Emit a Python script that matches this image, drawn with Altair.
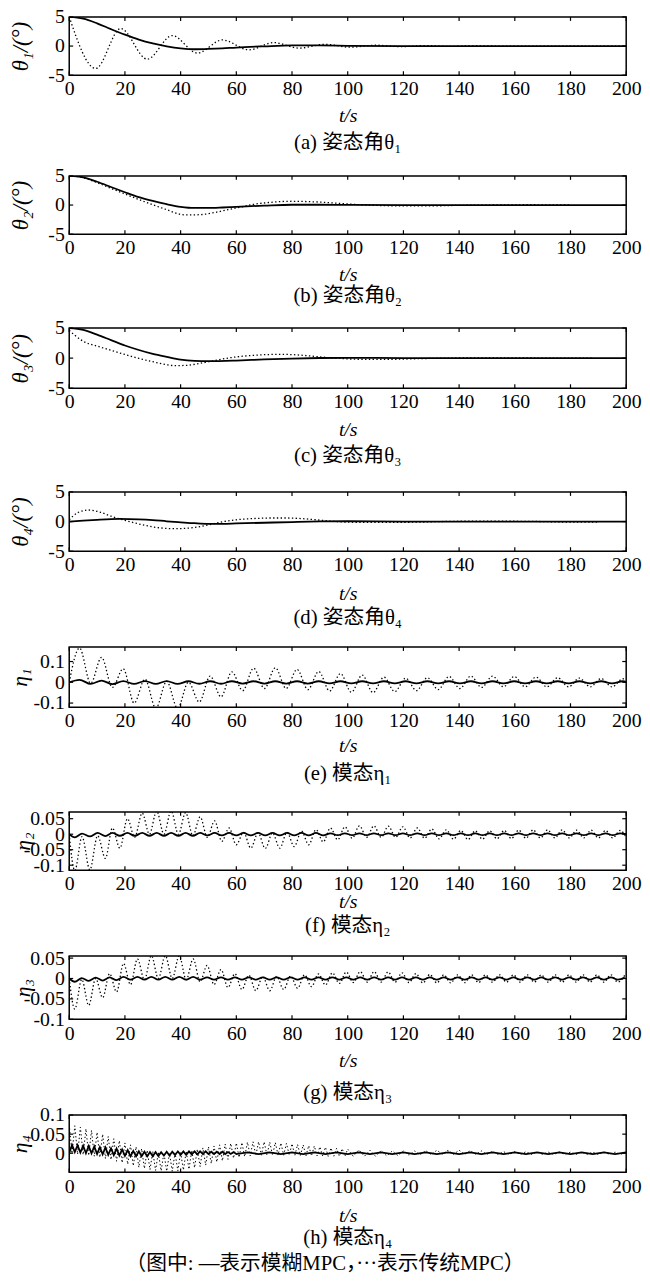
import altair as alt
import pandas as pd

FONT = "Liberation Serif, DejaVu Serif, Noto Sans CJK SC, serif"

X_TICKS = [0, 20, 40, 60, 80, 100, 120, 140, 160, 180, 200]

# ---------------- (a) theta1 ----------------
ta_f = [0, 5, 10, 15, 20, 25, 30, 35, 40, 45, 50, 55, 60, 70, 80, 90, 100, 120, 140, 200]
ya_f = [5.0, 4.7, 3.9, 2.9, 1.95, 1.1, 0.45, -0.05, -0.4, -0.55, -0.5, -0.4, -0.25, -0.05, 0.1, 0.1, 0.05, 0.0, 0.0, 0.0]
ta_c = [0, 9.5, 18.5, 28, 37, 46, 55, 64.5, 73.5, 82.5, 92, 101, 110, 119, 128, 137, 146, 155, 165, 200]
ya_c = [5.0, -3.85, 3.0, -2.25, 1.8, -1.2, 1.05, -0.65, 0.6, -0.35, 0.3, -0.2, 0.15, -0.1, 0.08, -0.05, 0.05, 0.0, 0.0, 0.0]

# ---------------- (b) theta2 ----------------
tb_f = [0, 5, 10, 15, 20, 25, 30, 35, 40, 45, 50, 55, 60, 70, 80, 90, 100, 120, 200]
yb_f = [5.0, 4.75, 4.0, 3.1, 2.2, 1.35, 0.7, 0.15, -0.3, -0.5, -0.5, -0.42, -0.3, -0.1, 0.05, 0.05, 0.02, 0.0, 0.0]
tb_c = [0, 5, 10, 15, 20, 25, 30, 35, 40, 42, 47, 52, 57, 62, 66, 72, 80, 88, 95, 102, 110, 120, 130, 140, 150, 165, 180]
yb_c = [5.0, 4.7, 3.85, 2.85, 1.9, 0.95, 0.05, -0.8, -1.6, -1.7, -1.65, -1.3, -0.8, -0.3, 0.1, 0.45, 0.65, 0.55, 0.35, 0.12, -0.05, -0.15, -0.15, -0.05, 0.0, 0.05, 0.03]

# ---------------- (c) theta3 ----------------
tc_f = [0, 5, 10, 15, 20, 25, 30, 35, 40, 45, 50, 60, 70, 80, 90, 100, 120, 200]
yc_f = [5.0, 4.7, 3.9, 3.0, 2.1, 1.35, 0.7, 0.2, -0.25, -0.45, -0.5, -0.4, -0.22, -0.08, 0.02, 0.05, 0.0, 0.0]
tc_c = [0, 2, 5, 10, 15, 20, 25, 30, 35, 38, 42, 46, 50, 55, 60, 66, 72, 77, 83, 90, 97, 105, 115, 125, 135, 150, 165, 188]
yc_c = [4.6, 3.8, 2.8, 2.0, 1.3, 0.6, -0.05, -0.6, -1.1, -1.25, -1.2, -0.95, -0.6, -0.15, 0.2, 0.45, 0.6, 0.62, 0.5, 0.2, -0.05, -0.2, -0.2, -0.1, 0.0, 0.05, 0.02, 0.0]

# ---------------- (d) theta4 ----------------
td_f = [0, 5, 10, 18, 25, 30, 35, 40, 45, 50, 55, 60, 70, 80, 90, 100, 120, 200]
yd_f = [0.0, 0.15, 0.3, 0.45, 0.38, 0.25, 0.05, -0.12, -0.28, -0.38, -0.38, -0.32, -0.2, -0.08, 0.02, 0.05, 0.0, 0.0]
td_c = [0, 3, 7, 11, 15, 20, 25, 30, 38, 45, 50, 55, 60, 66, 72, 78, 85, 92, 100, 110, 125, 140, 160, 170, 180, 190]
yd_c = [0.3, 1.5, 1.95, 1.6, 0.9, 0.2, -0.4, -0.9, -1.2, -1.0, -0.55, -0.05, 0.3, 0.5, 0.6, 0.6, 0.45, 0.15, -0.1, -0.15, -0.1, 0.05, 0.05, 0.0, -0.1, -0.1]

# ---------------- (e) eta1 ----------------
te = [0, 3.7, 7.7, 11.6, 15.5, 19.4, 23.3, 27.2, 31.1, 35.0, 38.9, 42.8, 46.7, 50.6, 54.5, 58.4,
      62.3, 66.2, 70.1, 74.0, 77.9, 81.8, 85.7, 89.6, 93.5, 97.4, 101.3, 105.2, 109.1, 113.0, 116.9,
      120.8, 124.7, 128.6, 132.5, 136.4, 140.3, 144.2, 148.1, 152.0, 155.9, 159.8, 163.7, 167.6,
      171.5, 175.4, 179.3, 183.2, 187.1, 191.0, 194.9, 198.8, 200]
ye_c = [0.0, 0.165, -0.005, 0.12, -0.025, 0.065, -0.10, 0.015, -0.125, 0.005, -0.125, 0.0, -0.095, 0.03, -0.07, 0.05,
        -0.04, 0.068, -0.03, 0.07, -0.03, 0.062, -0.035, 0.052, -0.042, 0.042, -0.048, 0.035, -0.05, 0.025, -0.045,
        0.02, -0.04, 0.022, -0.035, 0.028, -0.03, 0.03, -0.025, 0.03, -0.022, 0.028, -0.022, 0.025,
        -0.022, 0.022, -0.022, 0.02, -0.022, 0.018, -0.022, 0.017, 0.0]
ye_f = [0.0, 0.012, -0.008, 0.008, -0.009, 0.006, -0.008, 0.006, -0.008, 0.006, -0.008, 0.005, -0.007, 0.005, -0.007, 0.005,
        -0.006, 0.005, -0.006, 0.005, -0.006, 0.005, -0.006, 0.005, -0.005, 0.005, -0.005, 0.005, -0.005, 0.005, -0.005,
        0.005, -0.005, 0.005, -0.005, 0.005, -0.005, 0.005, -0.005, 0.005, -0.005, 0.005, -0.005, 0.005,
        -0.005, 0.005, -0.005, 0.005, -0.005, 0.005, -0.005, 0.005, 0.0]

# ---------------- (f) eta2 ----------------
tf = [0, 2.0, 4.6, 7.4, 10.2, 13.0, 15.5, 18.2, 20.9, 23.5, 26.2, 28.8, 31.4, 34.0, 36.6, 39.2, 41.8, 44.4,
      47.0, 49.6, 52.2, 54.8, 57.4, 60.0, 62.6, 65.2, 67.8, 70.4, 73.0, 75.6, 78.2, 80.8, 83.4, 86.0, 88.6,
      91.2, 93.8, 96.4, 99.0, 101.6, 104.2, 106.8, 109.4, 112.0, 114.6, 117.2, 119.8, 122.4, 125.0, 127.6,
      130.2, 132.8, 135.4, 138.0, 140.6, 143.2, 145.8, 148.4, 151.0, 153.6, 156.2, 158.8, 161.4, 164.0,
      166.6, 169.2, 171.8, 174.4, 177.0, 179.6, 182.2, 184.8, 187.4, 190.0, 192.6, 195.2, 197.8, 200.0]
yf_c = [0.0, -0.118, -0.008, -0.115, -0.005, -0.078, 0.02, -0.045, 0.05, -0.01, 0.068, 0.0, 0.075, 0.0, 0.075, 0.0, 0.07, -0.005,
        0.056, -0.01, 0.043, -0.023, 0.02, -0.034, 0.006, -0.045, 0.004, -0.046, 0.004, -0.045, 0.006, -0.04, 0.01, -0.034, 0.015,
        -0.025, 0.02, -0.018, 0.024, -0.013, 0.027, -0.01, 0.027, -0.01, 0.026, -0.01, 0.024, -0.012, 0.02, -0.013,
        0.017, -0.015, 0.014, -0.016, 0.012, -0.017, 0.011, -0.016, 0.011, -0.015, 0.012, -0.014, 0.013, -0.013,
        0.014, -0.012, 0.014, -0.012, 0.014, -0.012, 0.013, -0.012, 0.013, -0.012, 0.012, -0.012, 0.012, -0.01]
yf_f = [0.0, -0.01, 0.002, -0.007, 0.004, -0.006, 0.004, -0.005, 0.004, -0.005, 0.004, -0.005, 0.004, -0.005, 0.004, -0.005, 0.004, -0.005,
        0.004, -0.004, 0.004, -0.004, 0.004, -0.004, 0.004, -0.004, 0.004, -0.004, 0.004, -0.004, 0.004, -0.004, 0.004, -0.004, 0.004,
        -0.004, 0.003, -0.003, 0.003, -0.003, 0.003, -0.003, 0.003, -0.003, 0.003, -0.003, 0.003, -0.003, 0.003, -0.003,
        0.003, -0.003, 0.003, -0.003, 0.003, -0.003, 0.003, -0.003, 0.003, -0.003, 0.003, -0.003, 0.003, -0.003,
        0.003, -0.003, 0.003, -0.003, 0.003, -0.003, 0.003, -0.003, 0.003, -0.003, 0.003, -0.003, 0.003, 0.0]

# ---------------- (g) eta3 ----------------
tg = [0, 2, 4.5, 7, 9.5, 12, 14.5, 17, 19.5, 22, 24.5, 27, 29.5, 32, 34.5, 37, 39.5, 42, 44.5, 47, 49.5,
      52, 54.5, 57, 59.5, 62, 64.5, 67, 69.5, 72, 74.5, 77, 79.5, 82, 84.5, 87, 89.5, 92, 94.5, 97, 99.5,
      102, 104.5, 107, 109.5, 112, 114.5, 117, 119.5, 122, 124.5, 127, 129.5, 132, 134.5, 137, 139.5,
      142, 144.5, 147, 149.5, 152, 154.5, 157, 159.5, 162, 164.5, 167, 169.5, 172, 174.5, 177, 179.5,
      182, 184.5, 187, 189.5, 192, 194.5, 197, 199.5]
yg_c = [0.0, -0.075, -0.002, -0.066, 0.0, -0.047, 0.012, -0.033, 0.037, -0.015, 0.048, -0.003, 0.056, 0.0, 0.056, 0.0, 0.056, -0.003, 0.048, -0.008, 0.032,
        -0.015, 0.022, -0.022, 0.012, -0.027, 0.008, -0.03, 0.005, -0.03, 0.005, -0.027, 0.006, -0.024, 0.009, -0.02, 0.011, -0.016, 0.014, -0.012, 0.016,
        -0.01, 0.017, -0.009, 0.017, -0.009, 0.016, -0.009, 0.014, -0.01, 0.012, -0.011, 0.01, -0.011, 0.009, -0.011, 0.009,
        -0.01, 0.009, -0.01, 0.009, -0.009, 0.009, -0.009, 0.009, -0.009, 0.009, -0.009, 0.009, -0.009, 0.009, -0.009, 0.009,
        -0.009, 0.009, -0.009, 0.009, -0.009, 0.009, -0.009, 0.008]
yg_f = [0.0, -0.008, 0.001, -0.006, 0.002, -0.005, 0.003, -0.004, 0.004, -0.003, 0.004, -0.003, 0.004, -0.003, 0.004, -0.003, 0.004, -0.003, 0.004, -0.003, 0.003,
        -0.003, 0.003, -0.003, 0.003, -0.003, 0.003, -0.003, 0.003, -0.003, 0.003, -0.003, 0.003, -0.003, 0.003, -0.003, 0.003, -0.003, 0.003, -0.003, 0.003,
        -0.003, 0.003, -0.003, 0.003, -0.003, 0.003, -0.003, 0.003, -0.003, 0.003, -0.003, 0.003, -0.003, 0.003, -0.003, 0.003,
        -0.003, 0.003, -0.003, 0.003, -0.003, 0.003, -0.003, 0.003, -0.003, 0.003, -0.003, 0.003, -0.003, 0.003, -0.003, 0.003,
        -0.003, 0.003, -0.003, 0.003, -0.003, 0.003, -0.003, 0.002]

# ---------------- (h) eta4 ----------------
th_f = [0, 1, 2, 3, 4, 5, 6, 7, 8, 9, 10, 11, 12, 13, 14, 15, 16, 17, 18, 19, 20, 21, 22, 23, 24, 25, 26, 27, 28, 29, 30,
        31, 32, 33, 34, 35, 36, 37, 38, 39, 40, 41, 42, 43, 44, 45, 46, 47, 48, 49, 50, 51, 52, 53, 54, 55, 56, 57, 58, 59, 60,
        64, 68, 72, 76, 80, 84, 88, 92, 96, 100, 104, 108, 112, 116, 120, 124, 128, 132, 136, 140, 144, 148, 152, 156, 160,
        164, 168, 172, 176, 180, 184, 188, 192, 196, 200]
yh_f = [0.0, 0.022, 0.003, 0.021, 0.002, 0.02, 0.0, 0.019, 0.0, 0.018, -0.002, 0.016, -0.003, 0.015, -0.004, 0.013, -0.005, 0.012, -0.006, 0.01, -0.007,
        0.008, -0.008, 0.006, -0.008, 0.005, -0.008, 0.004, -0.008, 0.003, -0.008, 0.003, -0.007, 0.003, -0.006, 0.004, -0.006, 0.004, -0.005, 0.005, -0.004,
        0.005, -0.004, 0.005, -0.003, 0.005, -0.003, 0.005, -0.002, 0.005, -0.002, 0.004, -0.002, 0.004, -0.002, 0.004, -0.002, 0.003, -0.002, 0.003, -0.002,
        0.002, -0.002, 0.002, -0.002, 0.002, -0.002, 0.002, -0.002, 0.002, -0.002, 0.002, -0.002, 0.002, -0.002, 0.002, -0.002, 0.002, -0.002, 0.002, -0.002,
        0.002, -0.002, 0.002, -0.002, 0.002, -0.002, 0.002, -0.002, 0.002, -0.002, 0.002, -0.002, 0.002, -0.002, 0.002]
th_c = [0, 1, 2, 3, 4, 5, 6, 7, 8, 9, 10, 11, 12, 13, 14, 15, 16, 17, 18, 19, 20, 21, 22, 23, 24, 25, 26, 27, 28, 29, 30,
        31, 32, 33, 34, 35, 36, 37, 38, 39, 40, 41, 42, 43, 44, 45, 46, 47, 48, 49, 50, 51, 52, 53, 54, 55, 56, 57, 58, 59, 60,
        61, 62, 63, 64, 65, 66, 67, 68, 69, 70, 71, 72, 73, 74, 75, 76, 77, 78, 79, 80, 81, 82, 83, 84, 85, 86, 87, 88, 89, 90,
        91, 92, 93, 94, 95, 96, 97, 98, 99, 100,
        102, 104, 106, 108, 110, 112, 114, 116, 118, 120, 122, 124, 126, 128, 130, 132, 134, 136, 138, 140,
        142, 144, 146, 148, 150, 152, 154, 156, 158, 160, 162, 164, 166, 168, 170, 172, 174, 176, 178, 180,
        182, 184, 186, 188, 190, 192, 194, 196, 198, 200]
yh_c = [0.075, -0.001, 0.072, -0.003, 0.068, -0.004, 0.064, -0.006, 0.06, -0.008, 0.055, -0.011, 0.05, -0.014, 0.044, -0.017, 0.038, -0.021, 0.033, -0.025,
        0.027, -0.029, 0.022, -0.033, 0.017, -0.037, 0.012, -0.04, 0.008, -0.043, 0.005, -0.045, 0.002, -0.046, 0.001, -0.047, 0.0, -0.047, 0.001, -0.046,
        0.002, -0.044, 0.005, -0.042, 0.008, -0.038, 0.011, -0.035, 0.014, -0.031, 0.017, -0.027, 0.019, -0.023, 0.022, -0.02, 0.024, -0.016, 0.026, -0.013,
        0.027, -0.011, 0.028, -0.009, 0.029, -0.007, 0.03, -0.006, 0.03, -0.005, 0.03, -0.005, 0.029, -0.005, 0.028, -0.005, 0.027, -0.005, 0.026, -0.005,
        0.025, -0.006, 0.023, -0.006, 0.022, -0.007, 0.02, -0.007, 0.019, -0.007, 0.017, -0.007, 0.016, -0.008, 0.014, -0.008, 0.013, -0.008, 0.012, -0.008,
        0.011,
        -0.008, 0.009, -0.008, 0.008, -0.008, 0.007, -0.007, 0.006, -0.006, 0.006, -0.005, 0.006, -0.004, 0.007, -0.004, 0.008, -0.003, 0.008, -0.003, 0.008,
        -0.003, 0.007, -0.003, 0.006, -0.003, 0.005, -0.003, 0.004, -0.003, 0.004, -0.003, 0.004, -0.003, 0.003, -0.003, 0.003, -0.003, 0.003, -0.003, 0.003,
        -0.003, 0.003, -0.003, 0.003, -0.003, 0.003, -0.003, 0.003, -0.003, 0.003]

W = 564
TICK_LEN = 4


def panel(tf_, yf_, tc_, yc_, domain, yvals, ytitle, ytitle_x, ytitle_size, caption,
          height=60, tpad=7, cap_offset=6, spacer=0, interp="monotone", dot_width=1.3):
    xs = alt.Scale(domain=[0, 200], nice=False, zero=False)
    ys = alt.Scale(domain=domain, nice=False, zero=False)
    xaxis = alt.Axis(values=X_TICKS, title="t/s", ticks=False, domain=False, grid=False,
                     labelPadding=4, titlePadding=tpad, labelFlush=False, labelOverlap=False,
                     labelExpr="toString(datum.value)", titleFontStyle="italic",
                     labelFont=FONT, labelFontSize=20, labelColor="black",
                     titleFont=FONT, titleFontSize=20, titleColor="black", titleFontWeight="normal")
    yaxis = alt.Axis(values=yvals, title=ytitle, ticks=False, domain=False, grid=False,
                     labelPadding=5, labelOverlap=False, labelFlush=False,
                     labelExpr="toString(datum.value)",
                     labelFont=FONT, labelFontSize=20, labelColor="black",
                     titleFont=FONT, titleColor="black", titleFontWeight="normal",
                     titleAngle=270, titleX=ytitle_x, titleY=height / 2, titleAlign="center",
                     titleBaseline="top", titleFontSize=ytitle_size, titleFontStyle="italic")
    df_c = pd.DataFrame({"t": tc_, "v": yc_})
    df_f = pd.DataFrame({"t": tf_, "v": yf_})
    trad = alt.Chart(df_c).mark_line(color="black", strokeWidth=dot_width, strokeDash=[1.4, 2.4],
                                     interpolate=interp, clip=True).encode(
        x=alt.X("t:Q", scale=xs, axis=xaxis), y=alt.Y("v:Q", scale=ys, axis=yaxis))
    fuzzy = alt.Chart(df_f).mark_line(color="black", strokeWidth=1.8, interpolate=interp,
                                      clip=True).encode(
        x=alt.X("t:Q", scale=xs, axis=xaxis), y=alt.Y("v:Q", scale=ys, axis=yaxis))
    xt = pd.DataFrame({"t": X_TICKS})
    yt = pd.DataFrame({"v": yvals})
    bt = alt.Chart(xt).mark_rule(color="black", strokeWidth=1.2).encode(
        x=alt.X("t:Q", scale=xs, axis=xaxis), y=alt.value(height), y2=alt.value(height - TICK_LEN))
    tt = alt.Chart(xt).mark_rule(color="black", strokeWidth=1.2).encode(
        x=alt.X("t:Q", scale=xs, axis=xaxis), y=alt.value(0), y2=alt.value(TICK_LEN))
    lt = alt.Chart(yt).mark_rule(color="black", strokeWidth=1.2).encode(
        y=alt.Y("v:Q", scale=ys, axis=yaxis), x=alt.value(0), x2=alt.value(TICK_LEN))
    rt = alt.Chart(yt).mark_rule(color="black", strokeWidth=1.2).encode(
        y=alt.Y("v:Q", scale=ys, axis=yaxis), x=alt.value(W), x2=alt.value(W - TICK_LEN))
    tkw = dict(orient="bottom", offset=cap_offset, anchor="middle",
               fontSize=21, font=FONT, fontWeight="normal", color="black")
    if spacer > 2:
        # invisible (white) subtitle only reserves extra room below the caption
        tkw.update(subtitle=".", subtitleColor="white", subtitleFontSize=spacer,
                   subtitlePadding=0)
    return alt.layer(trad, fuzzy, bt, tt, lt, rt).properties(
        width=W, height=height, title=alt.TitleParams(caption, **tkw))


panels = [
    panel(ta_f, ya_f, ta_c, ya_c, [-5, 5], [-5, 0, 5], "θ₁/(°)", -60, 23, "(a) 姿态角θ₁",
          height=59, tpad=7, cap_offset=7, spacer=11),
    panel(tb_f, yb_f, tb_c, yb_c, [-5, 5], [-5, 0, 5], "θ₂/(°)", -60, 23, "(b) 姿态角θ₂",
          height=59, tpad=7, cap_offset=1, spacer=10),
    panel(tc_f, yc_f, tc_c, yc_c, [-5, 5], [-5, 0, 5], "θ₃/(°)", -60, 23, "(c) 姿态角θ₃",
          height=61, tpad=8, cap_offset=6, spacer=14),
    panel(td_f, yd_f, td_c, yd_c, [-5, 5], [-5, 0, 5], "θ₄/(°)", -60, 23, "(d) 姿态角θ₄",
          height=60, tpad=9, cap_offset=4, spacer=16),
    panel(te, ye_f, te, ye_c, [-0.12, 0.17], [-0.1, 0, 0.1], "η₁", -60, 22, "(e) 模态η₁",
          height=61, tpad=5, cap_offset=8, spacer=23),
    panel(tf, yf_f, tf, yf_c, [-0.116, 0.072], [-0.1, -0.05, 0, 0.05], "η₂", -57, 22, "(f) 模态η₂",
          height=59, tpad=-2, cap_offset=4, spacer=10),
    panel(tg, yg_f, tg, yg_c, [-0.1, 0.055], [-0.1, -0.05, 0, 0.05], "η₃", -57, 22, "(g) 模态η₃",
          height=64, tpad=8, cap_offset=12, spacer=0),
    panel(th_f, yh_f, th_c, yh_c, [-0.05, 0.1], [0, 0.05, 0.1], "η₄", -60, 22, "(h) 模态η₄",
          height=58, tpad=10, cap_offset=2, spacer=0, interp="linear", dot_width=1.0),
]

chart = alt.vconcat(*panels, spacing=0).properties(
    padding={"left": 0, "top": -10, "right": 0, "bottom": 0},
    background="white",
    title=alt.TitleParams("（图中: —表示模糊MPC，···表示传统MPC）", orient="bottom", offset=4,
                          anchor="middle", fontSize=21, font=FONT, fontWeight="normal", color="black"),
).configure_view(stroke="black", strokeWidth=1.5)

chart.save("out.html", embed_options={"renderer": "svg", "actions": False})
